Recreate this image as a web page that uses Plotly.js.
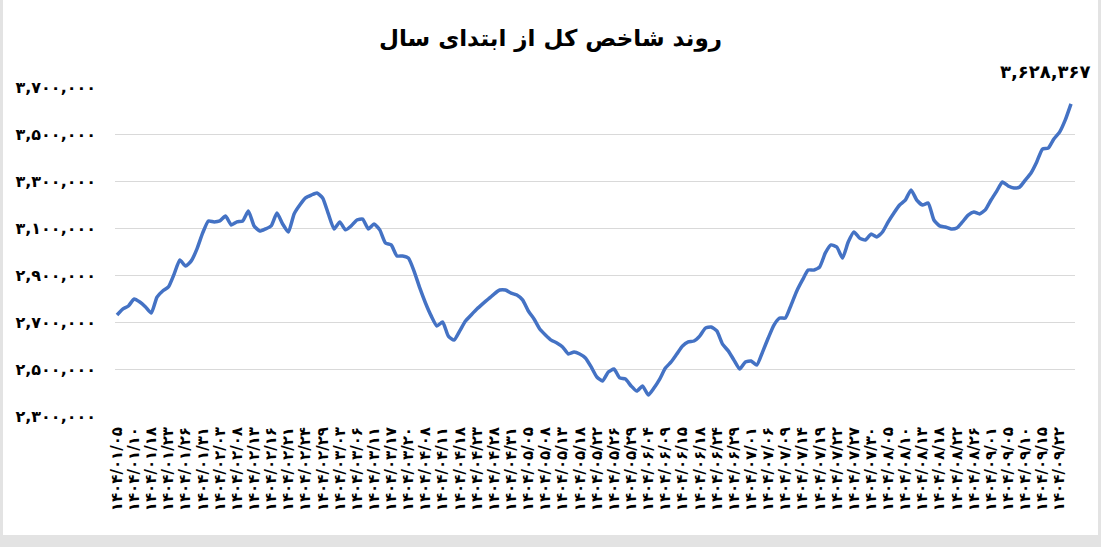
<!DOCTYPE html>
<html>
<head>
<meta charset="utf-8">
<script src="https://cdn.plot.ly/plotly-3.0.1.min.js"></script>
<style>
  html, body { margin: 0; padding: 0; background: #e3e3e3; width: 1101px; height: 547px; overflow: hidden; }
  #chart { position: absolute; left: 3px; top: 0; width: 1095px; height: 535px; background: #fff; }
</style>
</head>
<body>
<div id="chart"></div>
<script>
// Chart title
const chartTitle = 'روند شاخص کل از ابتدای سال';

// X tick labels (one label for every 3rd trading day)
const dateLabels = [
  '۱۴۰۴/۰۱/۰۵','۱۴۰۴/۰۱/۱۰','۱۴۰۴/۰۱/۱۸','۱۴۰۴/۰۱/۲۳','۱۴۰۴/۰۱/۲۶','۱۴۰۴/۰۱/۳۱',
  '۱۴۰۴/۰۲/۰۳','۱۴۰۴/۰۲/۰۸','۱۴۰۴/۰۲/۱۳','۱۴۰۴/۰۲/۱۶','۱۴۰۴/۰۲/۲۱','۱۴۰۴/۰۲/۲۴','۱۴۰۴/۰۲/۲۹',
  '۱۴۰۴/۰۳/۰۳','۱۴۰۴/۰۳/۰۶','۱۴۰۴/۰۳/۱۱','۱۴۰۴/۰۳/۱۷','۱۴۰۴/۰۳/۲۰',
  '۱۴۰۴/۰۴/۰۸','۱۴۰۴/۰۴/۱۱','۱۴۰۴/۰۴/۱۸','۱۴۰۴/۰۴/۲۳','۱۴۰۴/۰۴/۲۸','۱۴۰۴/۰۴/۳۱',
  '۱۴۰۴/۰۵/۰۵','۱۴۰۴/۰۵/۰۸','۱۴۰۴/۰۵/۱۳','۱۴۰۴/۰۵/۱۸','۱۴۰۴/۰۵/۲۲','۱۴۰۴/۰۵/۲۶','۱۴۰۴/۰۵/۲۹',
  '۱۴۰۴/۰۶/۰۴','۱۴۰۴/۰۶/۰۹','۱۴۰۴/۰۶/۱۵','۱۴۰۴/۰۶/۱۸','۱۴۰۴/۰۶/۲۴','۱۴۰۴/۰۶/۲۹',
  '۱۴۰۴/۰۷/۰۱','۱۴۰۴/۰۷/۰۶','۱۴۰۴/۰۷/۰۹','۱۴۰۴/۰۷/۱۴','۱۴۰۴/۰۷/۱۹','۱۴۰۴/۰۷/۲۲','۱۴۰۴/۰۷/۲۷','۱۴۰۴/۰۷/۳۰',
  '۱۴۰۴/۰۸/۰۵','۱۴۰۴/۰۸/۱۰','۱۴۰۴/۰۸/۱۳','۱۴۰۴/۰۸/۱۸','۱۴۰۴/۰۸/۲۲','۱۴۰۴/۰۸/۲۶',
  '۱۴۰۴/۰۹/۰۱','۱۴۰۴/۰۹/۰۵','۱۴۰۴/۰۹/۱۰','۱۴۰۴/۰۹/۱۵','۱۴۰۴/۰۹/۲۲'
];
const labelStep = 3;

// Total index (thousands), one value per trading day
const indexThousands = [
  2730,2755,2768,2798,2785,2764,2738,2806,2832,2849,
  2904,2964,2938,2960,3011,3079,3130,3126,3130,3151,
  3113,3126,3130,3172,3109,3087,3096,3109,3164,3117,
  3083,3160,3198,3228,3240,3249,3228,3160,3096,3126,
  3092,3109,3134,3138,3096,3117,3092,3036,3028,2981,
  2981,2972,2917,2845,2781,2726,2683,2700,2640,2623,
  2662,2704,2730,2755,2777,2798,2819,2836,2836,2823,
  2815,2794,2747,2713,2670,2645,2623,2611,2594,2564,
  2572,2564,2547,2509,2466,2449,2487,2500,2462,2457,
  2428,2406,2428,2389,2419,2457,2504,2530,2564,2598,
  2615,2619,2640,2674,2679,2662,2606,2577,2538,2500,
  2530,2534,2517,2572,2632,2687,2717,2717,2772,2832,
  2879,2921,2921,2934,2994,3028,3019,2972,3040,3083,
  3057,3049,3074,3062,3083,3126,3164,3198,3219,3262,
  3219,3198,3206,3134,3109,3104,3096,3100,3126,3155,
  3168,3160,3177,3219,3257,3296,3279,3270,3274,3304,
  3334,3381,3436,3440,3479,3508,3560,3628.367
];

// Y axis tick values
const yTicks = [2300000, 2500000, 2700000, 2900000, 3100000, 3300000, 3500000, 3700000];

const faDigits = '۰۱۲۳۴۵۶۷۸۹';
function toFa(n) {
  const s = Math.round(n).toString().replace(/\B(?=(\d{3})+(?!\d))/g, ',');
  return s.replace(/\d/g, d => faDigits[+d]);
}

const yValues = indexThousands.map(v => v * 1000);
const xIdx = yValues.map((_, i) => i);
const N = yValues.length;

const fontFam = 'DejaVu Sans, Noto Sans, sans-serif';

const trace = {
  type: 'scatter',
  mode: 'lines',
  x: xIdx,
  y: yValues,
  line: { color: '#4472C4', width: 3.5, shape: 'spline', smoothing: 0.5 },
  hoverinfo: 'y'
};

const layout = {
  width: 1095,
  height: 535,
  paper_bgcolor: '#ffffff',
  plot_bgcolor: '#ffffff',
  margin: { l: 112, r: 23, t: 87, b: 119 },
  showlegend: false,
  title: {
    text: chartTitle,
    x: 0.5, xanchor: 'center',
    y: 0.93, yanchor: 'middle', yref: 'container',
    font: { family: fontFam, size: 23, color: '#000', weight: 'bold' }
  },
  xaxis: {
    range: [-0.35, N - 1 + 0.7],
    tickvals: dateLabels.map((_, i) => i * labelStep),
    ticktext: dateLabels,
    tickangle: -90,
    showgrid: false,
    zeroline: false,
    showline: false,
    ticks: '',
    ticklabelstandoff: 7,
    tickfont: { family: fontFam, size: 15, color: '#000', weight: 'bold' }
  },
  yaxis: {
    range: [yTicks[0], yTicks[yTicks.length - 1]],
    tickvals: yTicks,
    ticktext: yTicks.map(toFa),
    gridcolor: '#d9d9d9',
    gridwidth: 1,
    zeroline: false,
    showline: false,
    ticks: '',
    ticklabelstandoff: 18,
    tickfont: { family: fontFam, size: 16, color: '#000', weight: 'bold' }
  },
  annotations: [{
    x: N - 1,
    y: yValues[N - 1],
    xref: 'x', yref: 'y',
    text: toFa(yValues[N - 1]),
    showarrow: false,
    xanchor: 'right',
    yanchor: 'bottom',
    xshift: 22,
    yshift: 20,
    font: { family: fontFam, size: 18, color: '#000', weight: 'bold' }
  }]
};

Plotly.newPlot('chart', [trace], layout, { displayModeBar: false, staticPlot: true });
</script>
</body>
</html>
